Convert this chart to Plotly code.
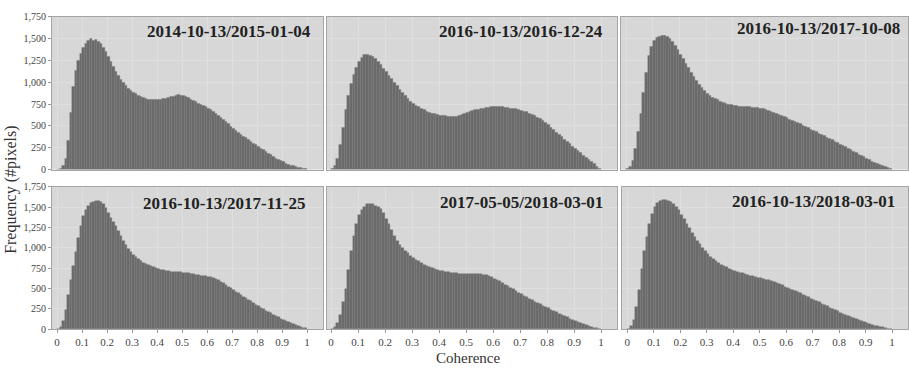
import plotly.graph_objects as go

# Coherence bins (left edge of each 0.01-wide bin)
bin_start = [round(i * 0.01, 2) for i in range(100)]

titles = ["2014-10-13/2015-01-04", "2016-10-13/2016-12-24", "2016-10-13/2017-10-08",
          "2016-10-13/2017-11-25", "2017-05-05/2018-03-01", "2016-10-13/2018-03-01"]

freq_2014_10_13_2015_01_04 = [
    0, 10, 40, 130, 330, 650, 950, 1130, 1250, 1330,
    1400, 1440, 1470, 1495, 1480, 1490, 1465, 1440, 1400, 1350,
    1290, 1230, 1180, 1120, 1070, 1030, 990, 960, 930, 905,
    885, 865, 850, 835, 820, 810, 800, 805, 795, 800,
    800, 805, 812, 815, 825, 830, 838, 845, 858, 850,
    845, 835, 822, 805, 790, 775, 760, 745, 732, 715,
    700, 680, 660, 640, 620, 595, 570, 545, 520, 495,
    470, 445, 420, 400, 380, 360, 340, 320, 300, 280,
    262, 245, 225, 205, 185, 165, 145, 128, 112, 98,
    85, 72, 60, 50, 40, 32, 24, 17, 11, 6]

freq_2016_10_13_2016_12_24 = [
    5, 40, 130, 290, 480, 680, 850, 980, 1090, 1170,
    1240, 1285, 1310, 1320, 1305, 1295, 1270, 1240, 1200, 1160,
    1120, 1080, 1040, 1000, 960, 920, 880, 845, 810, 780,
    755, 735, 715, 695, 680, 665, 655, 645, 638, 630,
    622, 615, 612, 605, 600, 600, 605, 615, 630, 645,
    655, 665, 672, 680, 688, 695, 702, 708, 712, 718,
    722, 720, 718, 715, 712, 708, 702, 698, 692, 685,
    678, 668, 658, 645, 632, 615, 598, 578, 555, 532,
    510, 482, 455, 428, 400, 372, 345, 318, 292, 265,
    240, 212, 188, 162, 138, 112, 88, 62, 38, 15]

freq_2016_10_13_2017_10_08 = [
    5, 30, 100, 240, 430, 640, 880, 1110, 1300, 1410,
    1470, 1510, 1525, 1535, 1530, 1520, 1495, 1460, 1420, 1375,
    1320, 1265, 1215, 1165, 1110, 1060, 1015, 970, 935, 900,
    870, 845, 825, 808, 795, 780, 768, 758, 748, 740,
    735, 730, 725, 722, 720, 718, 715, 712, 710, 705,
    700, 692, 684, 675, 665, 652, 640, 628, 615, 602,
    590, 576, 562, 548, 534, 520, 505, 490, 475, 460,
    445, 430, 414, 398, 383, 368, 352, 337, 322, 306,
    290, 274, 258, 242, 226, 210, 193, 176, 160, 143,
    127, 111, 96, 82, 68, 55, 42, 30, 18, 8]

freq_2016_10_13_2017_11_25 = [
    5, 30, 100, 240, 420, 600, 780, 950, 1120, 1270,
    1390, 1470, 1520, 1550, 1560, 1575, 1580, 1565, 1540, 1490,
    1430, 1370, 1320, 1270, 1210, 1150, 1090, 1040, 990, 950,
    915, 885, 860, 838, 820, 805, 790, 775, 762, 750,
    742, 735, 728, 720, 715, 710, 705, 702, 700, 700,
    698, 695, 690, 685, 680, 672, 665, 660, 655, 650,
    645, 638, 628, 615, 600, 582, 565, 545, 525, 505,
    485, 462, 440, 420, 400, 380, 360, 342, 322, 302,
    284, 265, 248, 230, 212, 196, 180, 164, 148, 132,
    118, 104, 90, 77, 64, 52, 40, 30, 20, 10]

freq_2017_05_05_2018_03_01 = [
    5, 25, 80, 180, 330, 500, 730, 960, 1150, 1300,
    1400, 1465, 1510, 1535, 1540, 1535, 1520, 1505, 1480, 1430,
    1360, 1290, 1220, 1150, 1090, 1040, 1000, 965, 935, 905,
    880, 858, 835, 815, 795, 780, 765, 752, 740, 730,
    720, 712, 705, 700, 695, 690, 688, 685, 683, 682,
    682, 682, 683, 684, 682, 678, 672, 664, 652, 638,
    622, 605, 588, 570, 550, 530, 510, 490, 470, 450,
    430, 412, 394, 376, 358, 340, 323, 306, 289, 272,
    256, 240, 224, 208, 192, 176, 160, 145, 130, 115,
    101, 88, 75, 62, 50, 39, 29, 20, 12, 5]

freq_2016_10_13_2018_03_01 = [
    5, 40, 120, 270, 480, 740, 960, 1140, 1300, 1420,
    1500, 1550, 1575, 1590, 1585, 1580, 1570, 1545, 1510, 1465,
    1410, 1355, 1300, 1245, 1190, 1140, 1090, 1045, 1000, 960,
    925, 890, 860, 835, 812, 792, 775, 760, 745, 732,
    720, 708, 697, 687, 677, 668, 660, 652, 644, 636,
    628, 619, 610, 600, 590, 578, 566, 553, 540, 526,
    512, 498, 484, 470, 455, 440, 425, 410, 394, 378,
    362, 346, 330, 314, 298, 282, 266, 250, 235, 220,
    205, 190, 175, 161, 147, 134, 121, 108, 96, 85,
    74, 64, 54, 45, 37, 29, 22, 15, 9, 4]

series = [freq_2014_10_13_2015_01_04, freq_2016_10_13_2016_12_24, freq_2016_10_13_2017_10_08,
          freq_2016_10_13_2017_11_25, freq_2017_05_05_2018_03_01, freq_2016_10_13_2018_03_01]

y_ticks = [0, 250, 500, 750, 1000, 1250, 1500, 1750]
y_tick_labels = ["0", "250", "500", "750", "1,000", "1,250", "1,500", "1,750"]
x_ticks = [0, 0.1, 0.2, 0.3, 0.4, 0.5, 0.6, 0.7, 0.8, 0.9, 1]
x_tick_labels = ["0", "0.1", "0.2", "0.3", "0.4", "0.5", "0.6", "0.7", "0.8", "0.9", "1"]

W, H = 909, 372
FONT = "Liberation Serif, Times New Roman, serif"

# pixel boxes of panels: (left, right, top, bottom)
boxes = [(52, 323, 11, 169), (327, 617, 11, 169), (621, 908, 11, 169),
         (52, 323, 187, 334), (327, 617, 187, 334), (622, 908, 187, 334)]
xranges = [[-0.02, 1.064], [-0.015, 1.059], [-0.02, 1.06],
           [-0.02, 1.064], [-0.015, 1.059], [-0.02, 1.06]]
title_pos = [(313, 26), (605, 26), (902, 23), (307, 204), (605, 203), (897, 202)]

fig = go.Figure()
layout = dict(
    width=W, height=H, margin=dict(l=0, r=0, t=0, b=0),
    paper_bgcolor="white", plot_bgcolor="#d7d7d7",
    showlegend=False, bargap=0, font=dict(family=FONT, color="#333333"),
)
annotations = []
for i, (vals, ttl) in enumerate(zip(series, titles)):
    n = i + 1
    xa = "x" if n == 1 else f"x{n}"
    ya = "y" if n == 1 else f"y{n}"
    fig.add_trace(go.Bar(
        x=bin_start, y=vals, width=0.01, offset=0,
        marker=dict(color="#6a6a6a", line=dict(color="#7c7c7c", width=0.4)),
        xaxis=xa, yaxis=ya, hoverinfo="x+y",
    ))
    l, r, t, b = boxes[i]
    bottom_row = i >= 3
    left_col = i % 3 == 0
    layout["xaxis" if n == 1 else f"xaxis{n}"] = dict(
        domain=[l / W, r / W], range=xranges[i], anchor=ya,
        tickvals=x_ticks, ticktext=x_tick_labels, showticklabels=bottom_row,
        ticks="outside" if bottom_row else "", ticklen=3, tickcolor="#999999",
        tickfont=dict(size=11, family=FONT, color="#444444"),
        showgrid=True, gridcolor="#dfdfdf", gridwidth=1, zeroline=False,
        showline=True, linecolor="#a5a5a5", linewidth=1, mirror=True,
    )
    layout["yaxis" if n == 1 else f"yaxis{n}"] = dict(
        domain=[1 - b / H, 1 - t / H], range=[0, 1750], anchor=xa,
        tickvals=y_ticks, ticktext=y_tick_labels, showticklabels=left_col,
        ticks="outside" if left_col else "", ticklen=3, tickcolor="#999999",
        tickfont=dict(size=10, family=FONT, color="#444444"),
        showgrid=True, gridcolor="#dfdfdf", gridwidth=1, zeroline=False,
        showline=True, linecolor="#a5a5a5", linewidth=1, mirror=True,
    )
    tx, ty = title_pos[i]
    annotations.append(dict(
        text=f"<b>{ttl}</b>", x=tx / W, y=1 - ty / H, xref="paper", yref="paper",
        xanchor="right", yanchor="middle", showarrow=False,
        font=dict(size=17, family=FONT, color="#222222"),
    ))

annotations.append(dict(text="Frequency (#pixels)", x=11 / W, y=1 - 190 / H,
                        xref="paper", yref="paper", textangle=-90, showarrow=False,
                        xanchor="center", yanchor="middle",
                        font=dict(size=16, family=FONT, color="#333333")))
annotations.append(dict(text="Coherence", x=468 / W, y=1 - 364 / H,
                        xref="paper", yref="paper", showarrow=False,
                        xanchor="center", yanchor="middle",
                        font=dict(size=15, family=FONT, color="#333333")))
layout["annotations"] = annotations
fig.update_layout(**layout)
fig.write_html(
    "out.html",
    config={"displayModeBar": False},
    post_script="document.body.style.margin='0';document.body.style.overflow='hidden';",
)
